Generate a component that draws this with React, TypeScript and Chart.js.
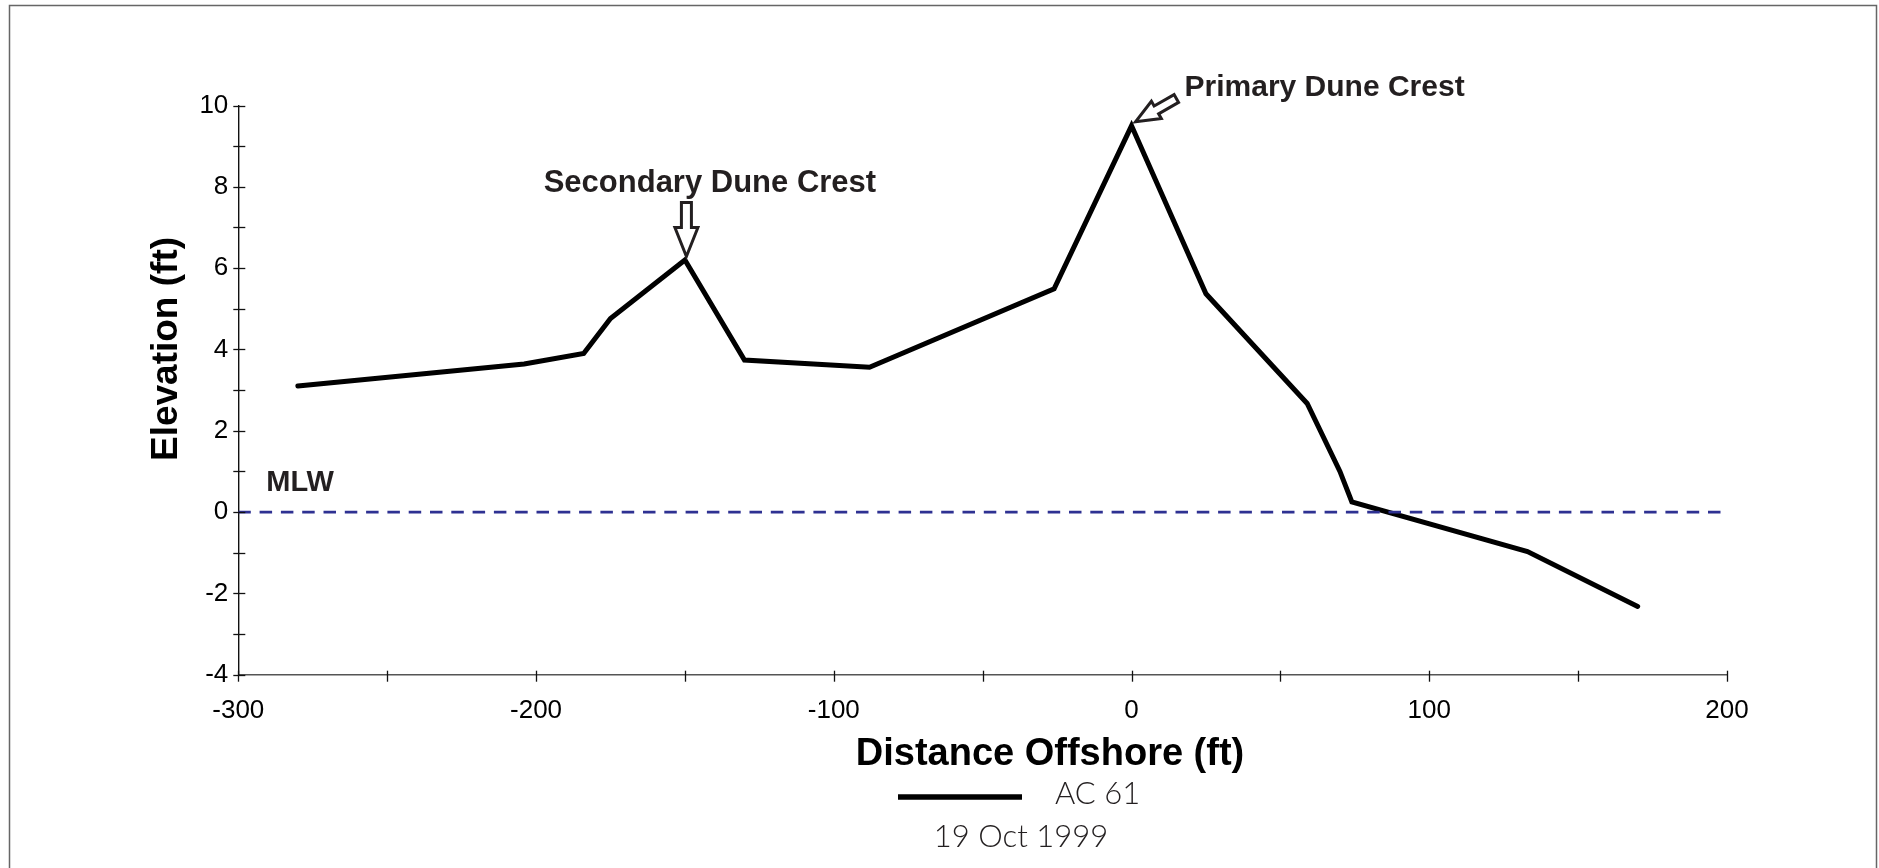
import React, { useEffect, useRef } from 'react';
import { Chart, registerables } from 'chart.js';

Chart.register(...registerables);

// ---- data ----
const distanceFt = [-280, -204, -184, -175, -150, -130, -88, -26, 0, 25, 59, 70, 74, 133, 170];
const elevationFt = [3.1, 3.64, 3.9, 4.76, 6.2, 3.74, 3.56, 5.49, 9.5, 5.37, 2.67, 1.0, 0.25, -0.97, -2.32];
const mlwDistance = [-300, 200];
const mlwElevation = [0, 0];
const xLabelValues = [-300, -200, -100, 0, 100, 200];
const yLabelValues = [-4, -2, 0, 2, 4, 6, 8, 10];
const seriesName = 'AC 61';
const surveyDate = '19 Oct 1999';
const xTitle = 'Distance Offshore (ft)';
const yTitle = 'Elevation (ft)';
const mlwLabel = 'MLW';
const secondaryLabel = 'Secondary Dune Crest';
const primaryLabel = 'Primary Dune Crest';
const secondaryIndex = 4;
const primaryIndex = 8;

const SANS = '"Liberation Sans", Arial, Helvetica, sans-serif';
const LIGHT = 'Lato, "Open Sans", sans-serif';
const TEXT = '#231f20';

function drawArrow(ctx: CanvasRenderingContext2D, tipX: number, tipY: number, angle: number,
  total: number, headLen: number, headHalf: number, shaftHalf: number) {
  ctx.save();
  ctx.translate(tipX, tipY);
  ctx.rotate(angle);
  ctx.beginPath();
  ctx.moveTo(0, 0);
  ctx.lineTo(-headLen, -headHalf);
  ctx.lineTo(-headLen, -shaftHalf);
  ctx.lineTo(-total, -shaftHalf);
  ctx.lineTo(-total, shaftHalf);
  ctx.lineTo(-headLen, shaftHalf);
  ctx.lineTo(-headLen, headHalf);
  ctx.closePath();
  ctx.fillStyle = '#fff';
  ctx.fill();
  ctx.strokeStyle = TEXT;
  ctx.lineWidth = 3;
  ctx.lineJoin = 'miter';
  ctx.stroke();
  ctx.restore();
}

const decorPlugin = {
  id: 'decor',
  afterDraw(chart: any) {
    const { ctx, chartArea } = chart;
    const xs = chart.scales.x;
    const ys = chart.scales.y;
    ctx.save();

    // frame
    ctx.strokeStyle = '#666';
    ctx.lineWidth = 1.5;
    ctx.beginPath();
    ctx.moveTo(9.5, 868);
    ctx.lineTo(9.5, 5.5);
    ctx.lineTo(1876.5, 5.5);
    ctx.lineTo(1876.5, 868);
    ctx.stroke();

    // tick marks
    ctx.lineWidth = 1.3;
    ctx.strokeStyle = '#111';
    const axX = chartArea.left;
    ys.ticks.forEach((t: any) => {
      const py = Math.round(ys.getPixelForValue(t.value)) + 0.5;
      ctx.beginPath();
      ctx.moveTo(axX - 5, py);
      ctx.lineTo(axX + 7, py);
      ctx.stroke();
    });
    const axY = chartArea.bottom;
    xs.ticks.forEach((t: any) => {
      const px = Math.round(xs.getPixelForValue(t.value)) + 0.5;
      ctx.beginPath();
      ctx.moveTo(px, axY - 4);
      ctx.lineTo(px, axY + 7);
      ctx.stroke();
    });

    // MLW label
    ctx.fillStyle = TEXT;
    ctx.textBaseline = 'alphabetic';
    ctx.textAlign = 'left';
    ctx.font = `bold 29px ${SANS}`;
    ctx.fillText(mlwLabel, xs.getPixelForValue(mlwDistance[0]) + 28, ys.getPixelForValue(mlwElevation[0]) - 21);

    // secondary crest
    const sx = xs.getPixelForValue(distanceFt[secondaryIndex]);
    const sy = ys.getPixelForValue(elevationFt[secondaryIndex]);
    ctx.font = `bold 31px ${SANS}`;
    ctx.textAlign = 'center';
    ctx.fillStyle = TEXT;
    ctx.fillText(secondaryLabel, sx + 25, sy - 68);
    drawArrow(ctx, sx + 1.5, sy - 3.5, Math.PI / 2, 54, 29, 11.5, 5);

    // primary crest
    const px0 = xs.getPixelForValue(distanceFt[primaryIndex]);
    const py0 = ys.getPixelForValue(elevationFt[primaryIndex]);
    ctx.font = `bold 30px ${SANS}`;
    ctx.textAlign = 'left';
    ctx.fillStyle = TEXT;
    ctx.fillText(primaryLabel, px0 + 53, py0 - 29.5);
    drawArrow(ctx, px0 + 4, py0 - 4, Math.atan2(24, -42), 47, 24, 10, 4.5);

    // axis titles
    ctx.fillStyle = '#000';
    ctx.font = `bold 37px ${SANS}`;
    ctx.save();
    ctx.translate(chartArea.left - 61.6, chartArea.top + 243.5);
    ctx.rotate(-Math.PI / 2);
    ctx.textAlign = 'center';
    ctx.textBaseline = 'alphabetic';
    ctx.fillText(yTitle, 0, 0);
    ctx.restore();

    ctx.font = `bold 38px ${SANS}`;
    ctx.textAlign = 'center';
    ctx.fillText(xTitle, 1050, chartArea.bottom + 90.6);

    // legend
    const ds = chart.data.datasets[1];
    ctx.strokeStyle = ds.borderColor;
    ctx.lineWidth = 5.7;
    ctx.lineCap = 'butt';
    ctx.beginPath();
    ctx.moveTo(898, 797);
    ctx.lineTo(1022, 797);
    ctx.stroke();
    ctx.fillStyle = TEXT;
    ctx.font = `300 31px ${LIGHT}`;
    ctx.textAlign = 'left';
    ctx.fillText(seriesName, 1055, 804.3);
    ctx.textAlign = 'center';
    ctx.fillText(surveyDate, 1021, 846.7);

    ctx.restore();
  },
};

export default function App() {
  const ref = useRef<HTMLCanvasElement>(null);
  useEffect(() => {
    const chart = new Chart(ref.current as HTMLCanvasElement, {
      type: 'line',
      data: {
        datasets: [
          {
            label: mlwLabel,
            data: mlwDistance.map((x, i) => ({ x, y: mlwElevation[i] })),
            borderColor: '#2e3192',
            borderWidth: 2.7,
            borderDash: [12.5, 8.8],
            pointRadius: 0,
            fill: false,
            order: 0,
          },
          {
            label: seriesName,
            data: distanceFt.map((x, i) => ({ x, y: elevationFt[i] })),
            borderColor: '#000000',
            borderWidth: 5,
            borderCapStyle: 'round',
            borderJoinStyle: 'miter',
            pointRadius: 0,
            tension: 0,
            fill: false,
            order: 1,
          },
        ],
      },
      options: {
        responsive: false,
        animation: false,
        devicePixelRatio: 1,
        layout: { padding: { left: 0, top: 105.5, right: 152, bottom: 133.3 } },
        plugins: { legend: { display: false }, tooltip: { enabled: false } },
        scales: {
          x: {
            type: 'linear',
            min: -300,
            max: 200,
            grid: { display: false, drawTicks: false },
            border: { display: true, color: '#555', width: 1.4 },
            ticks: {
              stepSize: 50,
              autoSkip: false,
              maxRotation: 0,
              padding: 21,
              color: '#000',
              font: { family: SANS, size: 26 },
              callback: (v: any) => (xLabelValues.includes(Number(v)) ? String(v) : ''),
            },
            afterFit: (s: any) => { s.height = 60; },
          },
          y: {
            type: 'linear',
            min: -4,
            max: 10,
            grid: { display: false, drawTicks: false },
            border: { display: true, color: '#111', width: 1.4 },
            ticks: {
              stepSize: 1,
              autoSkip: false,
              padding: 10,
              color: '#000',
              font: { family: SANS, size: 26 },
              callback: (v: any) => (yLabelValues.includes(Number(v)) ? String(v) : ''),
            },
            afterFit: (s: any) => { s.width = 238.3; },
          },
        },
      },
      plugins: [decorPlugin],
    } as any);
    return () => chart.destroy();
  }, []);
  return (
    <div style={{ position: 'absolute', left: 0, top: 0, width: 1879, height: 868, background: '#fff' }}>
      <canvas ref={ref} width={1879} height={868} style={{ display: 'block', width: 1879, height: 868 }} />
    </div>
  );
}
